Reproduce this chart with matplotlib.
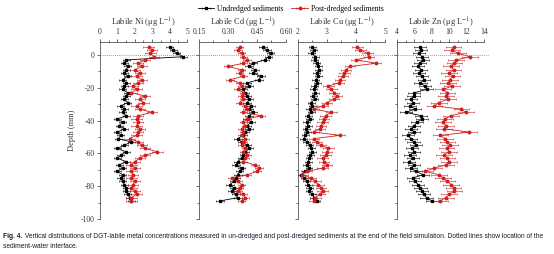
import matplotlib.pyplot as plt
import matplotlib.transforms as mtransforms

plt.rcParams['font.family'] = ['Liberation Serif', 'DejaVu Serif']
plt.rcParams['mathtext.fontset'] = 'stix'

# depth of each DGT slice (mm), positive = overlying water
depth = [5, 3, 1, -1, -3, -5, -7, -9, -11, -13, -15, -17, -19, -21, -23, -25,
         -27, -29, -31, -33, -35, -37, -39, -41, -43, -45, -47, -49, -51, -53,
         -55, -57, -59, -61, -63, -65, -67, -69, -71, -73, -75, -77, -79, -81,
         -83, -85, -87, -89]

ni_un = [4.0, 4.2, 4.4, 4.8, 1.5, 1.4, 1.6, 1.5, 1.4, 1.6, 1.3, 1.5, 1.4, 1.3,
         1.6, 1.5, 1.4, 1.6, 1.2, 1.4, 1.3, 1.5, 1.0, 1.3, 1.1, 1.4, 1.0, 1.2,
         1.05, 1.8, 1.4, 1.0, 1.5, 1.2, 1.0, 1.5, 1.1, 1.3, 1.0, 1.3, 1.2, 1.3,
         1.4, 1.5, 1.5, 1.6, 1.7, 1.8]
ni_pd = [2.8, 3.0, 2.9, 3.1, 2.6, 2.2, 2.4, 2.0, 2.3, 2.1, 2.4, 2.2, 1.9, 2.1,
         1.8, 2.6, 2.3, 2.5, 2.1, 2.3, 3.0, 2.2, 2.1, 2.2, 2.1, 2.3, 2.2, 2.1,
         1.7, 2.2, 2.4, 2.6, 3.3, 2.6, 2.3, 2.0, 1.8, 2.0, 1.8, 1.9, 1.8, 2.0,
         1.9, 1.8, 2.0, 2.1, 1.8, 1.8]

cd_un = [0.48, 0.50, 0.52, 0.51, 0.49, 0.43, 0.41, 0.44, 0.43, 0.47, 0.46, 0.40,
         0.41, 0.38, 0.39, 0.40, 0.41, 0.40, 0.42, 0.41, 0.43, 0.41, 0.40, 0.42,
         0.40, 0.41, 0.39, 0.38, 0.35, 0.37, 0.40, 0.41, 0.39, 0.38, 0.37, 0.35,
         0.34, 0.37, 0.36, 0.35, 0.34, 0.33, 0.31, 0.33, 0.32, 0.34, 0.35, 0.26]
cd_pd = [0.36, 0.35, 0.37, 0.38, 0.40, 0.38, 0.30, 0.37, 0.36, 0.38, 0.31, 0.36,
         0.37, 0.35, 0.38, 0.37, 0.38, 0.36, 0.39, 0.40, 0.38, 0.47, 0.40, 0.38,
         0.39, 0.37, 0.38, 0.37, 0.39, 0.38, 0.37, 0.39, 0.38, 0.40, 0.39, 0.38,
         0.44, 0.46, 0.45, 0.40, 0.32, 0.35, 0.37, 0.36, 0.35, 0.38, 0.39, 0.37]

cu_un = [2.50, 2.55, 2.48, 2.60, 2.58, 2.65, 2.70, 2.72, 2.65, 2.70, 2.62, 2.66,
         2.58, 2.55, 2.60, 2.52, 2.58, 2.45, 2.50, 2.40, 2.45, 2.35, 2.40, 2.30,
         2.35, 2.28, 2.32, 2.25, 2.20, 2.30, 2.40, 2.45, 2.50, 2.42, 2.38, 2.35,
         2.30, 2.38, 2.25, 2.12, 2.22, 2.30, 2.35, 2.40, 2.38, 2.50, 2.55, 2.65]
cu_pd = [4.05, 4.15, 4.40, 4.45, 4.00, 4.70, 3.80, 3.65, 3.60, 3.55, 3.45, 3.40,
         3.05, 3.15, 3.25, 3.35, 3.25, 3.00, 2.85, 2.55, 3.15, 2.95, 2.90, 2.85,
         2.80, 2.75, 2.55, 3.45, 2.55, 2.65, 2.80, 3.05, 3.00, 2.95, 2.85, 2.90,
         3.00, 2.85, 2.30, 2.15, 2.45, 2.60, 2.70, 2.80, 2.85, 2.75, 2.60, 2.55]

zn_un = [6.6, 6.8, 6.5, 6.9, 7.0, 6.6, 6.4, 6.8, 6.5, 6.9, 7.1, 6.7, 7.2, 7.4,
         6.0, 5.9, 5.6, 5.8, 5.5, 6.1, 5.0, 6.8, 6.9, 6.3, 6.0, 5.6, 6.0, 5.3,
         5.6, 5.9, 6.2, 5.7, 6.0, 5.5, 5.8, 5.4, 6.0, 5.6, 6.2, 7.0, 5.8, 6.1,
         6.4, 6.7, 6.9, 7.1, 7.4, 8.0]
zn_pd = [10.5, 10.3, 11.0, 12.4, 10.8, 10.6, 10.2, 10.5, 10.0, 10.4, 10.1, 9.9,
         10.3, 9.3, 9.8, 9.6, 9.9, 8.8, 8.3, 11.4, 11.9, 10.2, 9.5, 9.3, 9.6,
         9.4, 12.3, 9.0, 9.5, 9.8, 10.1, 9.7, 10.0, 9.4, 9.8, 10.0, 9.6, 8.3,
         7.2, 8.8, 9.3, 9.8, 10.2, 10.5, 10.6, 10.0, 9.6, 9.0]

panels = [
    ('Labile Ni (μg L$^{-1}$)', ni_un, ni_pd, 0.2, 0.3, (0, 5), [0, 1, 2, 3, 4, 5], ['0', '1', '2', '3', '4', '5']),
    ('Labile Cd (μg L$^{-1}$)', cd_un, cd_pd, 0.02, 0.02, (0.15, 0.60), [0.15, 0.30, 0.45, 0.60], ['0.15', '0.30', '0.45', '0.60']),
    ('Labile Cu (μg L$^{-1}$)', cu_un, cu_pd, 0.12, 0.18, (2, 5), [2, 3, 4, 5], ['2', '3', '4', '5']),
    ('Labile Zn (μg L$^{-1}$)', zn_un, zn_pd, 0.7, 0.9, (4, 14), [4, 6, 8, 10, 12, 14], ['4', '6', '8', '10', '12', '14']),
]

fig = plt.figure(figsize=(5.54, 2.54), dpi=100)
lefts = [0.1805, 0.3592, 0.5379, 0.7166]
axes = []
for i, (label, un, pd_, eu, ep, xlim, ticks, ticklabels) in enumerate(panels):
    ax = fig.add_axes([lefts[i], 0.138, 0.157, 0.697])
    axes.append(ax)
    h1 = ax.errorbar(un, depth, xerr=eu, fmt='-s', color='black', ms=1.8, lw=0.6,
                     elinewidth=0.4, capsize=1.0, capthick=0.4, label='Undredged sediments')
    h2 = ax.errorbar(pd_, depth, xerr=ep, fmt='-o', color='#d02020', ms=1.8, lw=0.6,
                     elinewidth=0.4, capsize=1.0, capthick=0.4, label='Post-dredged sediments')
    ax.set_xlim(*xlim)
    ax.set_ylim(-100, 8)
    ax.xaxis.set_ticks_position('top')
    ax.xaxis.set_label_position('top')
    ax.set_xticks(ticks)
    ax.set_xticklabels(ticklabels)
    step = ticks[1] - ticks[0]
    ax.set_xticks([t + step / 2 for t in ticks[:-1]], minor=True)
    ax.set_yticks([-100, -80, -60, -40, -20, 0])
    ax.set_yticks([-90, -70, -50, -30, -10], minor=True)
    ax.set_xlabel(label, fontsize=6, labelpad=2, color='#333333')
    ax.tick_params(which='both', direction='out', labelsize=5.5, width=0.5, pad=1.5, colors='#333333')
    ax.tick_params(which='major', length=2.5)
    ax.tick_params(which='minor', length=1.5)
    for s in ['right', 'bottom']:
        ax.spines[s].set_visible(False)
    for s in ['left', 'top']:
        ax.spines[s].set_linewidth(0.5)
        ax.spines[s].set_color('#333333')
    ax.spines['left'].set_bounds(-100, 8)
    if i == 0:
        ax.set_yticklabels(['-100', '-80', '-60', '-40', '-20', '0'])
        ax.set_ylabel('Depth (mm)', fontsize=6, labelpad=3, color='#333333')
    else:
        ax.set_yticklabels([])

# sediment-water interface across all panels
trans = mtransforms.blended_transform_factory(fig.transFigure, axes[0].transData)
fig.add_artist(plt.Line2D([0.1805, 0.88], [0, 0], transform=trans, ls=(0, (1, 1.5)),
                          color='#777777', lw=0.6))

fig.legend(handles=[h1, h2], loc='center', bbox_to_anchor=(0.525, 0.965), ncol=2,
           frameon=False, fontsize=5.5, handlelength=2.2, columnspacing=1.0,
           handletextpad=0.4, borderaxespad=0)

cap_font = ['Liberation Sans', 'DejaVu Sans']
t1 = fig.text(0.006, 0.067, 'Fig. 4.', fontsize=4.8, fontweight='bold',
              family=cap_font, color='#1a1a2e', va='center')
axes[-1].annotate(' Vertical distributions of DGT-labile metal concentrations measured in un-dredged and '
                  'post-dredged sediments at the end of the field simulation. Dotted lines show location of the',
                  xy=(1, 0.5), xycoords=t1, va='center', fontsize=4.8,
                  family=cap_font, color='#1a1a2e', annotation_clip=False)
fig.text(0.006, 0.031, 'sediment-water interface.', fontsize=4.8,
         family=cap_font, color='#1a1a2e', va='center')

fig.savefig('out.png', dpi=100)
